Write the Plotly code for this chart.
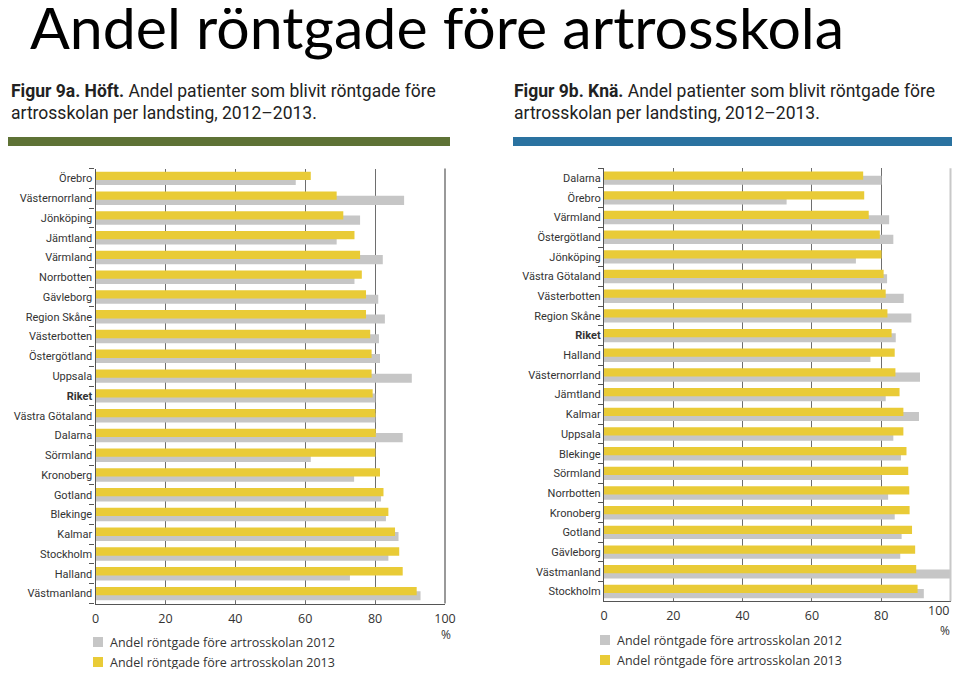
import plotly.graph_objects as go

# Figur 9a - Höft
hip_regions = ["Örebro", "Västernorrland", "Jönköping", "Jämtland", "Värmland", "Norrbotten",
               "Gävleborg", "Region Skåne", "Västerbotten", "Östergötland", "Uppsala", "Riket",
               "Västra Götaland", "Dalarna", "Sörmland", "Kronoberg", "Gotland", "Blekinge",
               "Kalmar", "Stockholm", "Halland", "Västmanland"]
hip_2013 = [61.6, 69.0, 70.9, 74.1, 75.7, 76.2, 77.4, 77.4, 78.6, 79.0, 79.0, 79.3,
            80.1, 80.2, 80.1, 81.4, 82.4, 83.8, 85.7, 86.9, 87.9, 91.9]
hip_2012 = [57.3, 88.3, 75.7, 69.0, 82.2, 74.1, 80.9, 82.8, 81.1, 81.4, 90.5, 80.1,
            80.1, 87.9, 61.6, 74.0, 81.7, 83.1, 86.7, 83.8, 72.8, 93.0]

# Figur 9b - Knä
knee_regions = ["Dalarna", "Örebro", "Värmland", "Östergötland", "Jönköping", "Västra Götaland",
                "Västerbotten", "Region Skåne", "Riket", "Halland", "Västernorrland", "Jämtland",
                "Kalmar", "Uppsala", "Blekinge", "Sörmland", "Norrbotten", "Kronoberg",
                "Gotland", "Gävleborg", "Västmanland", "Stockholm"]
knee_2013 = [74.8, 75.1, 76.4, 79.6, 80.1, 80.7, 81.3, 81.8, 83.0, 83.9, 84.1, 85.3,
             86.4, 86.4, 87.3, 87.8, 88.1, 88.2, 88.9, 89.8, 90.1, 90.5]
knee_2012 = [80.1, 52.7, 82.3, 83.5, 72.7, 81.7, 86.5, 88.7, 84.2, 76.9, 91.2, 81.3,
             90.9, 83.5, 85.7, 80.1, 82.0, 83.9, 85.9, 85.5, 100.0, 92.3]

x_ticks = [0, 20, 40, 60, 80, 100]
name_2012 = "Andel röntgade före artrosskolan 2012"
name_2013 = "Andel röntgade före artrosskolan 2013"

yellow = '#e9cb37'
grey = '#c6c6c6'
grid = '#6e6e6e'
textcol = '#333333'
font = "Open Sans"

# the page body adds an 8px margin, so size the figure to fit the window exactly
OFF = 8
W, H = 960 - 2 * OFF, 677 - 2 * OFF
def px(x):
    return (x - OFF) / W
def py(y):
    return 1 - (y - OFF) / H

fig = go.Figure()

panels = [(hip_regions, hip_2012, hip_2013, 'x', 'y'),
          (knee_regions, knee_2012, knee_2013, 'x2', 'y2')]
for regions, v12, v13, xa, ya in panels:
    fig.add_trace(go.Bar(y=regions, x=v12, orientation='h', name=name_2012,
                         marker=dict(color=grey, line_width=0),
                         offset=-0.12, width=0.46, xaxis=xa, yaxis=ya, hoverinfo='x+y'))
    fig.add_trace(go.Bar(y=regions, x=v13, orientation='h', name=name_2013,
                         marker=dict(color=yellow, line_width=0),
                         offset=-0.34, width=0.42, xaxis=xa, yaxis=ya, hoverinfo='x+y'))

tick_font = dict(family=font, size=12.5, color=textcol)
xcommon = dict(range=[0, 100], showgrid=True, gridcolor=grid, gridwidth=1,
               showline=True, linecolor='#555555', linewidth=1.2, ticks='', zeroline=False,
               ticklabelstandoff=3, automargin=False, tickfont=tick_font, fixedrange=True)
ycommon = dict(type='category', autorange='reversed', showgrid=False, showline=True,
               linecolor='#555555', linewidth=1.2, ticks='outside', ticklen=5, tickwidth=1,
               tickcolor='#555555', tickson='boundaries', zeroline=False, automargin=False,
               tickfont=dict(family="Roboto", size=11, color=textcol), fixedrange=True)

def bold_riket(regions):
    return [("<b>%s</b>" % r) if r == "Riket" else r for r in regions]

fig.update_layout(
    width=W, height=H,
    margin=dict(l=0, r=0, t=0, b=0),
    paper_bgcolor='white', plot_bgcolor='white',
    barmode='overlay', showlegend=False,
    xaxis=dict(domain=[px(95.5), px(445)], anchor='y', tickvals=x_ticks, **xcommon),
    yaxis=dict(domain=[py(603.5), py(168.5)], anchor='x',
               tickvals=hip_regions, ticktext=bold_riket(hip_regions), **ycommon),
    # the last label (100) of the right panel sits at the window edge, added below
    xaxis2=dict(domain=[px(604), px(950.5)], anchor='y2', tickvals=x_ticks[:-1], **xcommon),
    yaxis2=dict(domain=[py(601.3), py(168.3)], anchor='x2',
                tickvals=knee_regions, ticktext=bold_riket(knee_regions), **ycommon),
)
fig.add_annotation(text=str(x_ticks[-1]), xref='x2', yref='paper', x=x_ticks[-1], y=py(610),
                   xanchor='right', yanchor='middle', showarrow=False, font=tick_font)

# right-hand frame lines of the two plots
fig.add_shape(type='line', xref='x domain', yref='y domain', x0=1, x1=1, y0=0, y1=1,
              line=dict(color='#555555', width=1.2), layer='above')
fig.add_shape(type='line', xref='x2 domain', yref='y2 domain', x0=1, x1=1, y0=0, y1=1,
              line=dict(color='#c8c8c8', width=2), layer='above')

# coloured header strips
fig.add_shape(type='rect', xref='paper', yref='paper', x0=px(8), x1=px(450),
              y0=py(146), y1=py(137), fillcolor='#5e7235', line_width=0)
fig.add_shape(type='rect', xref='paper', yref='paper', x0=px(513), x1=px(952),
              y0=py(146), y1=py(137), fillcolor='#2a72a0', line_width=0)

# legends below each panel (square key + label)
legend_font = dict(family=font, size=12.5, color=textcol)
for lx, rows in [(93, [(642, grey, name_2012), (662, yellow, name_2013)]),
                 (600, [(640, grey, name_2012), (660, yellow, name_2013)])]:
    for ly, col, label in rows:
        fig.add_shape(type='rect', xref='paper', yref='paper', x0=px(lx), x1=px(lx + 10),
                      y0=py(ly + 5), y1=py(ly - 5), fillcolor=col, line_width=0)
        fig.add_annotation(text=label, xref='paper', yref='paper', x=px(lx + 15), y=py(ly),
                           xanchor='left', yanchor='middle', showarrow=False, font=legend_font)

# main title
fig.add_annotation(text="Andel röntgade före artrosskola", xref='paper', yref='paper',
                   x=px(28), y=py(27), xanchor='left', yanchor='middle', showarrow=False,
                   font=dict(family="Lato", size=59, color='black'))

# figure captions
sub_font = dict(family="Roboto", size=17.5, color='#222222')
captions = [(9, "<b>Figur 9a. Höft.</b> Andel patienter som blivit röntgade före"),
            (512, "<b>Figur 9b. Knä.</b> Andel patienter som blivit röntgade före")]
for x0, line1 in captions:
    fig.add_annotation(text=line1, xref='paper', yref='paper', x=px(x0), y=py(91),
                       xanchor='left', yanchor='middle', showarrow=False, font=sub_font)
    fig.add_annotation(text="artrosskolan per landsting, 2012–2013.", xref='paper', yref='paper',
                       x=px(x0), y=py(113), xanchor='left', yanchor='middle', showarrow=False,
                       font=sub_font)

# percent unit labels
fig.add_annotation(text="%", xref='paper', yref='paper', x=px(446), y=py(634),
                   xanchor='center', yanchor='middle', showarrow=False,
                   font=dict(family=font, size=12, color=textcol))
fig.add_annotation(text="%", xref='paper', yref='paper', x=px(952), y=py(630),
                   xanchor='right', yanchor='middle', showarrow=False,
                   font=dict(family=font, size=12, color=textcol))

fig.write_html("out.html")
